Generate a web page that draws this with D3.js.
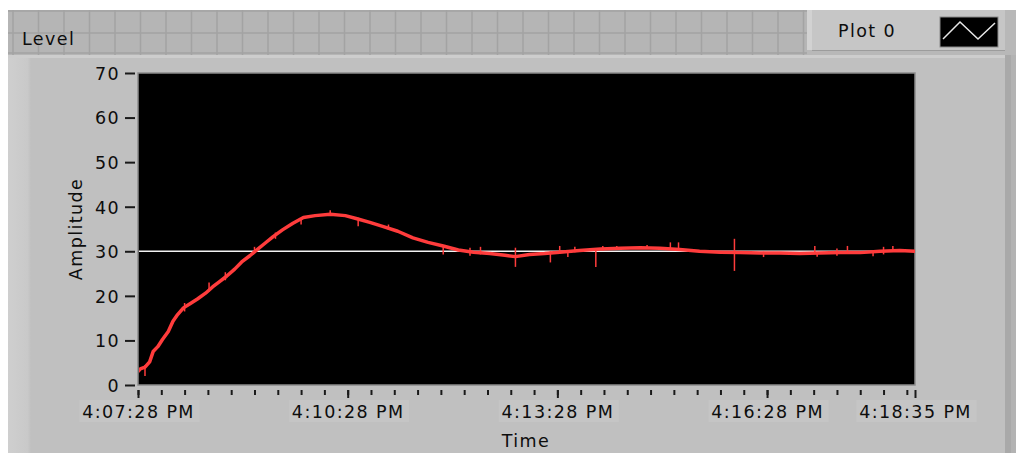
<!DOCTYPE html>
<html>
<head>
<meta charset="utf-8">
<script src="https://cdn.jsdelivr.net/npm/d3@7"></script>
<style>
  body { margin: 0; background: #fff; }
  svg { display: block; }
  text { font-family: "DejaVu Sans", sans-serif; font-size: 17.5px; letter-spacing: 1.4px; fill: #0d0d0d; }
</style>
</head>
<body>
<div class="container"></div>
<script>
// Time in seconds from 4:07:28 PM, level reading
const levelTimes = [0, 2, 6, 10, 13, 17, 21, 26, 30, 34, 39, 45, 51, 58, 64, 70, 76, 83, 89, 96,
  102, 109, 116, 124, 133, 142, 152, 165, 178, 188, 199, 210, 223, 236, 249, 262, 275, 288,
  302, 315, 324, 336, 349, 362, 379, 397, 414, 431, 448, 465, 482, 500, 517, 534, 551, 568,
  585, 603, 620, 637, 654, 667];
const levelValues = [3.0, 3.6, 4.0, 5.2, 7.5, 8.6, 10.2, 12.0, 14.3, 15.8, 17.3, 18.3, 19.3, 20.6,
  22.0, 23.2, 24.4, 26.0, 27.6, 29.0, 30.3, 31.8, 33.3, 34.8, 36.3, 37.6, 38.0, 38.3, 38.0,
  37.3, 36.5, 35.6, 34.5, 33.0, 32.0, 31.2, 30.3, 29.8, 29.5, 29.1, 28.8, 29.3, 29.5, 29.8,
  30.2, 30.5, 30.7, 30.8, 30.7, 30.4, 30.0, 29.8, 29.7, 29.6, 29.6, 29.5, 29.6, 29.7, 29.7,
  30.0, 30.2, 30.0];

// Noise spikes: time, low, high
const spikeTimes = [6, 40, 61, 75, 100, 118, 140, 165, 189, 215, 262, 285, 294, 324, 354, 362,
  369, 375, 393, 399, 411, 437, 457, 464, 512, 537, 581, 583, 600, 609, 631, 640, 648];
const spikeLow = [2.0, 16.5, 21.0, 23.5, 29.5, 32.8, 36.0, 38.0, 35.6, 34.8, 29.3, 29.0, 29.3,
  26.5, 27.5, 29.5, 28.7, 29.8, 26.5, 30.2, 30.4, 30.5, 30.5, 30.2, 25.6, 28.7, 29.4, 28.8,
  29.0, 29.5, 28.9, 29.3, 29.9];
const spikeHigh = [4.5, 18.4, 23.0, 25.3, 31.0, 34.2, 37.2, 39.2, 37.5, 36.0, 31.3, 30.8, 31.0,
  30.8, 30.0, 31.2, 29.8, 31.0, 30.6, 31.2, 31.2, 31.4, 32.0, 32.0, 32.8, 29.9, 31.2, 29.8,
  30.6, 31.2, 29.9, 31.0, 31.2];

const setpoint = 30;
const yTicks = [0, 10, 20, 30, 40, 50, 60, 70];
const xMajorSeconds = [0, 180, 360, 540, 667];
const xMinorStep = 20;
const totalSeconds = 667;

const W = 1016, H = 453;
const plot = { left: 138, right: 915, top: 73, bottom: 385 };
const t0 = new Date(2000, 0, 1, 16, 7, 28);
const toDate = (s) => new Date(t0.getTime() + s * 1000);

const svg = d3.select(".container").append("svg").attr("width", W).attr("height", H);

// Panel background
svg.append("rect").attr("x", 8).attr("y", 10).attr("width", W - 8).attr("height", H - 10).attr("fill", "#c0c0c0");
const leftGrad = svg.append("defs").append("linearGradient").attr("id", "lg");
leftGrad.append("stop").attr("offset", "0%").attr("stop-color", "#cfcfcf");
leftGrad.append("stop").attr("offset", "85%").attr("stop-color", "#c9c9c9");
leftGrad.append("stop").attr("offset", "100%").attr("stop-color", "#c0c0c0");
svg.append("rect").attr("x", 8).attr("y", 55).attr("width", 23).attr("height", H - 55).attr("fill", "url(#lg)");
svg.append("rect").attr("x", 8).attr("y", 55).attr("width", 997).attr("height", 3).attr("fill", "#cdcdcd");
svg.append("rect").attr("x", 1005).attr("y", 53).attr("width", 6).attr("height", H - 53).attr("fill", "#a9a9a9");
svg.append("rect").attr("x", 1011).attr("y", 53).attr("width", 5).attr("height", H - 53).attr("fill", "#b3b3b3");

// Title strip with grid
const strip = svg.append("g");
strip.append("rect").attr("x", 8).attr("y", 10).attr("width", 799).attr("height", 45).attr("fill", "#b5b5b5");
d3.range(13, 807, 25.5).forEach((gx) => {
  strip.append("line").attr("x1", gx).attr("x2", gx).attr("y1", 10).attr("y2", 55)
    .attr("stroke", "#a3a3a3").attr("stroke-width", 1.5);
});
[11, 33, 53].forEach((gy) => {
  strip.append("line").attr("x1", 8).attr("x2", 807).attr("y1", gy).attr("y2", gy)
    .attr("stroke", "#a3a3a3").attr("stroke-width", 1.5);
});
svg.append("text").attr("x", 22).attr("y", 45).text("Level");

// Legend
const lg = svg.append("g");
lg.append("rect").attr("x", 807).attr("y", 10).attr("width", 209).attr("height", 45).attr("fill", "#b8b8b8");
lg.append("rect").attr("x", 807).attr("y", 10).attr("width", 198).attr("height", 40).attr("fill", "#c6c6c6");
lg.append("rect").attr("x", 807).attr("y", 10).attr("width", 5).attr("height", 40).attr("fill", "#d2d2d2");
lg.append("line").attr("x1", 812).attr("x2", 1005).attr("y1", 50.5).attr("y2", 50.5).attr("stroke", "#9c9c9c");
lg.append("text").attr("x", 838).attr("y", 37).text("Plot 0");
lg.append("rect").attr("x", 940).attr("y", 17).attr("width", 58).attr("height", 30)
  .attr("fill", "#000").attr("stroke", "#8a8a8a");
lg.append("path").attr("d", "M943,39 L960,22 L978,39 L995,23")
  .attr("fill", "none").attr("stroke", "#e8e8e8").attr("stroke-width", 1.5);

// Scales
const x = d3.scaleTime().domain([toDate(0), toDate(totalSeconds)]).range([plot.left, plot.right]);
const y = d3.scaleLinear().domain([0, 70]).range([plot.bottom, plot.top]);

// Plot area
svg.append("rect").attr("x", plot.left).attr("y", plot.top)
  .attr("width", plot.right - plot.left).attr("height", plot.bottom - plot.top)
  .attr("fill", "#000").attr("stroke", "#8c8c8c").attr("stroke-width", 1.5);

// Y axis
const yAxis = svg.append("g").attr("transform", `translate(135,0)`)
  .call(d3.axisLeft(y).tickValues(yTicks).tickSize(10).tickPadding(5));
yAxis.select(".domain").remove();
yAxis.selectAll(".tick line").attr("stroke", "#1a1a1a").attr("stroke-width", 2);
yAxis.selectAll(".tick text").attr("font-size", null).attr("font-family", null).attr("fill", null).attr("dy", "0.36em");

// X axis minor ticks
const minorVals = d3.range(0, totalSeconds, xMinorStep).map(toDate);
const xMinor = svg.append("g").attr("transform", `translate(0,390)`)
  .call(d3.axisBottom(x).tickValues(minorVals).tickSize(5).tickFormat(""));
xMinor.select(".domain").remove();
xMinor.selectAll(".tick line").attr("stroke", "#1a1a1a").attr("stroke-width", 2);

// X axis major ticks + labels
const fmt = d3.timeFormat("%-I:%M:%S %p");
const xMajor = svg.append("g").attr("transform", `translate(0,390)`)
  .call(d3.axisBottom(x).tickValues(xMajorSeconds.map(toDate)).tickSize(8).tickPadding(8).tickFormat(fmt));
xMajor.select(".domain").remove();
xMajor.selectAll(".tick line").attr("stroke", "#1a1a1a").attr("stroke-width", 2);
xMajor.selectAll(".tick text").attr("font-size", null).attr("font-family", null).attr("fill", null);
xMajor.selectAll(".tick").insert("rect", "text")
  .attr("x", -59).attr("y", 10).attr("width", 120).attr("height", 22).attr("fill", "#c5c5c5");

// Axis titles
svg.append("text").attr("transform", "translate(82,229) rotate(-90)")
  .attr("text-anchor", "middle").text("Amplitude");
svg.append("text").attr("x", 526).attr("y", 447).attr("text-anchor", "middle").text("Time");

// Clip for traces
svg.append("clipPath").attr("id", "pc").append("rect")
  .attr("x", plot.left + 1).attr("y", plot.top + 1)
  .attr("width", plot.right - plot.left - 1).attr("height", plot.bottom - plot.top - 1);
const traces = svg.append("g").attr("clip-path", "url(#pc)");

// Setpoint line
traces.append("line").attr("x1", plot.left).attr("x2", plot.right)
  .attr("y1", y(setpoint)).attr("y2", y(setpoint))
  .attr("stroke", "#f2f2f2").attr("stroke-width", 1.5);

// Level trace
const levelData = levelTimes.map((t, i) => ({ t: toDate(t), v: levelValues[i] }));
const line = d3.line().x((d) => x(d.t)).y((d) => y(d.v));
traces.append("path").datum(levelData).attr("d", line)
  .attr("fill", "none").attr("stroke", "#ff3c3c").attr("stroke-width", 3.5)
  .attr("stroke-linejoin", "round");

// Spikes
traces.selectAll(".spike").data(spikeTimes).join("line")
  .attr("class", "spike")
  .attr("x1", (d) => x(toDate(d))).attr("x2", (d) => x(toDate(d)))
  .attr("y1", (d, i) => y(spikeLow[i])).attr("y2", (d, i) => y(spikeHigh[i]))
  .attr("stroke", "#ff3c3c").attr("stroke-width", 1.5);
</script>
</body>
</html>
